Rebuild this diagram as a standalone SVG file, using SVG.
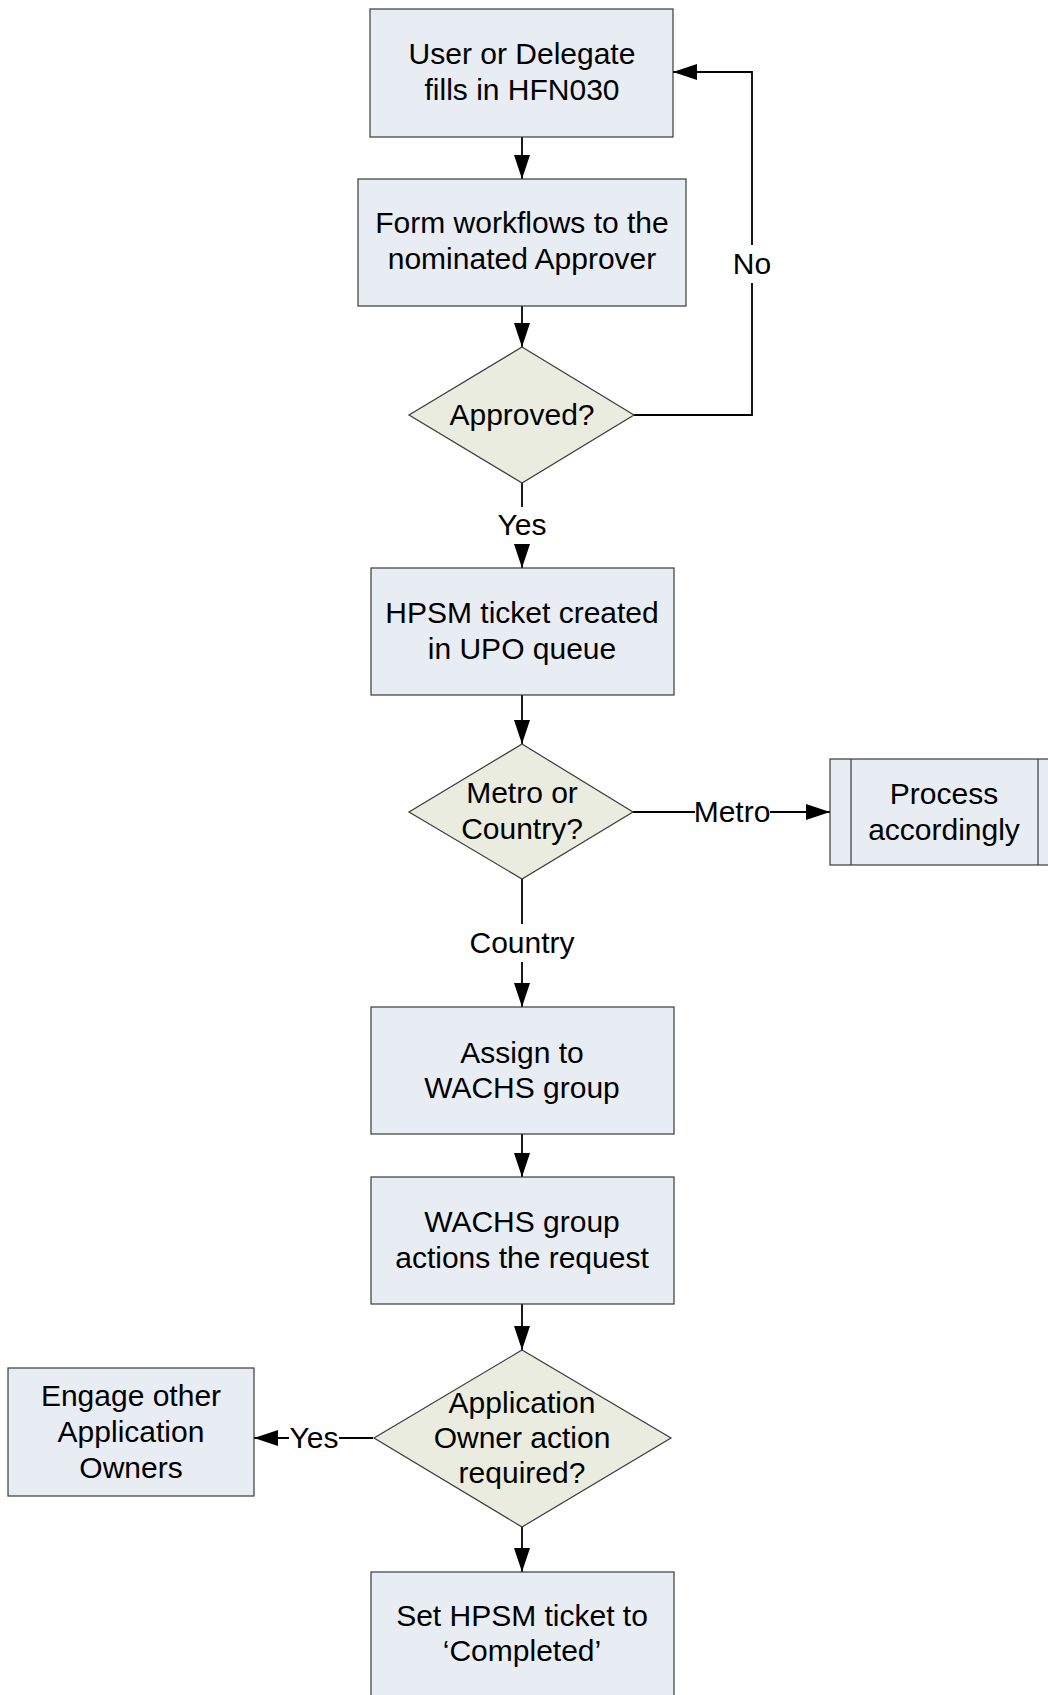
<svg xmlns="http://www.w3.org/2000/svg" width="1048" height="1695" viewBox="0 0 1048 1695">
<defs>
<marker id="arr" markerUnits="userSpaceOnUse" markerWidth="26" markerHeight="18" refX="24" refY="8" orient="auto">
<path d="M0,0 L24,8 L0,16 z" fill="#000"/>
</marker>
<style>
.box{fill:#e8ecf3;stroke:#3a3a3a;stroke-width:1.2}
.dia{fill:#e9ecde;stroke:#3a3a3a;stroke-width:1.2}
.t{font-family:"Liberation Sans",Arial,sans-serif;font-size:30px;fill:#000;text-anchor:middle}
.c{fill:none;stroke:#000;stroke-width:1.8}
</style>
</defs>
<rect width="1048" height="1695" fill="#fff"/>
<g id="connectors">
<path class="c" d="M522,137 V179" marker-end="url(#arr)"/>
<path class="c" d="M522,306 V347" marker-end="url(#arr)"/>
<path class="c" d="M634,415 H752 V283"/>
<path class="c" d="M752,245 V72 H673" marker-end="url(#arr)"/>
<path class="c" d="M522,483 V507"/>
<path class="c" d="M522,545 V568" marker-end="url(#arr)"/>
<path class="c" d="M522,695 V744" marker-end="url(#arr)"/>
<path class="c" d="M633,812 H695"/>
<path class="c" d="M770,812 H830" marker-end="url(#arr)"/>
<path class="c" d="M522,879 V924"/>
<path class="c" d="M522,962 V1007" marker-end="url(#arr)"/>
<path class="c" d="M522,1134 V1177" marker-end="url(#arr)"/>
<path class="c" d="M522,1304 V1350" marker-end="url(#arr)"/>
<path class="c" d="M373,1438 H339"/>
<path class="c" d="M289,1438 H254" marker-end="url(#arr)"/>
<path class="c" d="M522,1527 V1572" marker-end="url(#arr)"/>
<text class="t" x="752" y="274">No</text>
<text class="t" x="522" y="535">Yes</text>
<text class="t" x="732" y="822">Metro</text>
<text class="t" x="522" y="953">Country</text>
<text class="t" x="314" y="1448">Yes</text>
</g>
<g id="n1"><rect class="box" x="370" y="9" width="303" height="128"/>
<text class="t" x="522" y="64">User or Delegate</text><text class="t" x="522" y="100">fills in HFN030</text></g>
<g id="n2"><rect class="box" x="358" y="179" width="328" height="127"/>
<text class="t" x="522" y="233">Form workflows to the</text><text class="t" x="522" y="269">nominated Approver</text></g>
<g id="n3"><polygon class="dia" points="522,347 634,415 522,483 409,415"/>
<text class="t" x="522" y="425">Approved?</text></g>
<g id="n4"><rect class="box" x="371" y="568" width="303" height="127"/>
<text class="t" x="522" y="623">HPSM ticket created</text><text class="t" x="522" y="659">in UPO queue</text></g>
<g id="n5"><polygon class="dia" points="522,744 633,812 522,879 409,812"/>
<text class="t" x="522" y="803">Metro or</text><text class="t" x="522" y="839">Country?</text></g>
<g id="n6"><rect class="box" x="830" y="759" width="230" height="106"/>
<line x1="851" y1="759" x2="851" y2="865" stroke="#3a3a3a" stroke-width="1.2"/>
<line x1="1038" y1="759" x2="1038" y2="865" stroke="#3a3a3a" stroke-width="1.2"/>
<text class="t" x="944" y="804">Process</text><text class="t" x="944" y="840">accordingly</text></g>
<g id="n7"><rect class="box" x="371" y="1007" width="303" height="127"/>
<text class="t" x="522" y="1063">Assign to</text><text class="t" x="522" y="1098">WACHS group</text></g>
<g id="n8"><rect class="box" x="371" y="1177" width="303" height="127"/>
<text class="t" x="522" y="1232">WACHS group</text><text class="t" x="522" y="1268">actions the request</text></g>
<g id="n9"><polygon class="dia" points="522,1350 671,1438 522,1527 374,1438"/>
<text class="t" x="522" y="1413">Application</text><text class="t" x="522" y="1448">Owner action</text><text class="t" x="522" y="1483">required?</text></g>
<g id="n10"><rect class="box" x="8" y="1368" width="246" height="128"/>
<text class="t" x="131" y="1406">Engage other</text><text class="t" x="131" y="1442">Application</text><text class="t" x="131" y="1478">Owners</text></g>
<g id="n11"><rect class="box" x="371" y="1572" width="303" height="140"/>
<text class="t" x="522" y="1626">Set HPSM ticket to</text><text class="t" x="522" y="1661">‘Completed’</text></g>
</svg>
